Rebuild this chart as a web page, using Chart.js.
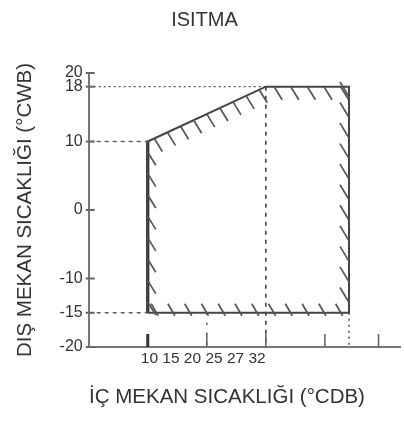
<!DOCTYPE html>
<html>
<head>
<meta charset="utf-8">
<script src="https://cdn.jsdelivr.net/npm/chart.js@4.4.0/dist/chart.umd.min.js"></script>
<style>
  html, body { margin: 0; padding: 0; background: #fff; }
  #wrap { width: 404px; height: 423px; }
</style>
</head>
<body>
<div id="wrap"><canvas id="chart"></canvas></div>
<script>
// operating envelope: indoor DB (x) vs outdoor WB (y)
const envX = [10, 10, 32, 47.5, 47.5, 10];
const envY = [-15, 10, 18, 18, -15, -15];

// y axis ticks and x axis tick marks / labels
const yTicks = [-20, -15, -10, 0, 10, 18, 20];
const xTickMarks = [10, 21, 32, 43, 53];
const xTickLabels = ['10', '15', '20', '25', '27', '32'];

// guide lines
const guide18X = [-1, 32], guide18Y = [18, 18];
const guide10X = [-1, 10], guide10Y = [10, 10];
const guideM15X = [-1, 10], guideM15Y = [-15, -15];
const vert32X = [32, 32], vert32Y = [18, -20];
const vert21X = [21, 21], vert21Y = [-15, -20];
const vertRX = [47.5, 47.5], vertRY = [-15, -20];

const FONT = '"Liberation Sans", Arial, sans-serif';
const INK = '#333';
const LINE = '#444';

function pts(xs, ys) {
  return xs.map((x, i) => ({ x: x, y: ys[i] }));
}

function lineSet(data, width, dash, color) {
  return {
    data: data,
    showLine: true,
    borderColor: color || LINE,
    borderWidth: width,
    borderDash: dash || [],
    pointRadius: 0,
    fill: false,
    clip: false
  };
}

// hatch marks along each edge of the envelope
const hatchPlugin = {
  id: 'hatch',
  afterDatasetsDraw(chart) {
    const ctx = chart.ctx;
    const xs = chart.scales.x, ys = chart.scales.y;
    const p = envX.map((x, i) => [xs.getPixelForValue(x), ys.getPixelForValue(envY[i])]);
    // edge: from, to, mode, spacing
    const edges = [[0, 1, 'start', 22], [1, 2, 'start', 14.5], [2, 3, 'start', 17], [3, 4, 'end', 21.5], [4, 0, 'cross', 17]];
    ctx.save();
    ctx.strokeStyle = '#555';
    ctx.lineWidth = 1.7;
    edges.forEach(([a, b, mode, sp]) => {
      const [x0, y0] = p[a], [x1, y1] = p[b];
      const len = Math.hypot(x1 - x0, y1 - y0);
      const n = Math.round(len / sp);
      for (let i = 0; i < n; i++) {
        const t = (i + 0.5) / n;
        const x = x0 + (x1 - x0) * t, y = y0 + (y1 - y0) * t;
        ctx.beginPath();
        if (mode === 'start') { ctx.moveTo(x, y); ctx.lineTo(x + 8, y + 13); }
        else if (mode === 'end') { ctx.moveTo(x - 9, y - 15); ctx.lineTo(x, y); }
        else { ctx.moveTo(x - 5, y - 9); ctx.lineTo(x + 2, y + 3); }
        ctx.stroke();
      }
    });
    ctx.restore();
  }
};

// inward tick marks, x labels and x title
const axisPlugin = {
  id: 'axisExtras',
  afterDraw(chart) {
    const ctx = chart.ctx;
    const xs = chart.scales.x, ys = chart.scales.y;
    const area = chart.chartArea;
    ctx.save();
    ctx.strokeStyle = '#666';
    ctx.lineWidth = 2;
    yTicks.forEach(v => {
      const y = ys.getPixelForValue(v);
      ctx.beginPath();
      ctx.moveTo(area.left - 3, y);
      ctx.lineTo(area.left + 6, y);
      ctx.stroke();
    });
    xTickMarks.forEach((v, i) => {
      const x = xs.getPixelForValue(v);
      ctx.lineWidth = i === 0 ? 3 : 1.6;
      ctx.strokeStyle = i === 0 ? '#333' : '#666';
      ctx.beginPath();
      ctx.moveTo(x, area.bottom);
      ctx.lineTo(x, area.bottom - 13);
      ctx.stroke();
    });
    ctx.fillStyle = INK;
    ctx.font = '15.5px ' + FONT;
    ctx.textAlign = 'left';
    ctx.textBaseline = 'middle';
    ctx.fillText(xTickLabels.join(' '), xs.getPixelForValue(10) - 7, area.bottom + 12);
    ctx.font = '20.5px ' + FONT;
    ctx.textAlign = 'center';
    ctx.fillText('İÇ MEKAN SICAKLIĞI (°CDB)', 227, 397);
    ctx.restore();
  }
};

new Chart(document.getElementById('chart'), {
  type: 'scatter',
  data: {
    datasets: [
      lineSet(pts(guide18X, guide18Y), 1.2, [2, 3], '#555'),
      lineSet(pts(guide10X, guide10Y), 1.4, [4, 4], '#555'),
      lineSet(pts(guideM15X, guideM15Y), 1.4, [4, 4], '#555'),
      lineSet(pts(vert32X, vert32Y), 1.6, [4, 5], '#444'),
      lineSet(pts(vert21X, vert21Y), 1.6, [2, 8], '#555'),
      lineSet(pts(vertRX, vertRY), 1.6, [2, 4], '#555'),
      lineSet(pts(envX, envY), 2, [], LINE),
      lineSet(pts(envX.slice(0, 2), envY.slice(0, 2)), 3.2, [], '#222')
    ]
  },
  options: {
    responsive: true,
    maintainAspectRatio: false,
    animation: false,
    layout: { padding: { left: 9, right: 4, bottom: 68, top: 0 } },
    plugins: {
      legend: { display: false },
      tooltip: { enabled: false },
      title: {
        display: true,
        text: 'ISITMA',
        color: INK,
        font: { family: FONT, size: 20, weight: 'normal' },
        padding: { top: 8, bottom: 41 }
      }
    },
    scales: {
      x: {
        type: 'linear',
        min: -1,
        max: 57,
        ticks: { display: false },
        grid: { display: false },
        border: { color: '#777', width: 2 }
      },
      y: {
        min: -20,
        max: 20,
        afterBuildTicks: scale => { scale.ticks = yTicks.map(v => ({ value: v })); },
        ticks: { color: INK, padding: 6, font: { family: FONT, size: 16 } },
        grid: { drawOnChartArea: false, drawTicks: false },
        border: { color: '#777', width: 2 },
        title: {
          display: true,
          text: 'DIŞ MEKAN SICAKLIĞI (°CWB)',
          color: INK,
          font: { family: FONT, size: 20.5 },
          padding: { top: 4, bottom: 16 }
        }
      }
    }
  },
  plugins: [hatchPlugin, axisPlugin]
});
</script>
</body>
</html>
